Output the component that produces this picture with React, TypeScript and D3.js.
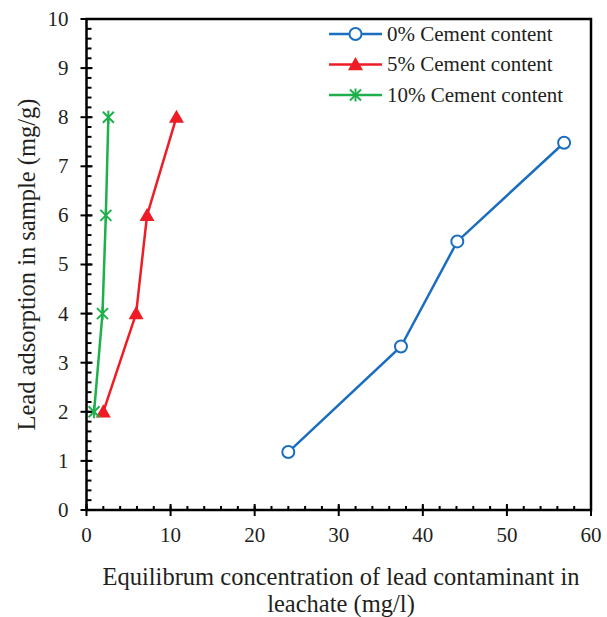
import React from "react";
import * as d3 from "d3";

const cement0X = [24.0, 37.4, 44.1, 56.8];
const cement0Y = [1.18, 3.33, 5.47, 7.48];
const cement5X = [2.0, 5.9, 7.2, 10.7];
const cement5Y = [2, 4, 6, 8];
const cement10X = [0.9, 1.9, 2.3, 2.6];
const cement10Y = [2, 4, 6, 8];

const seriesNames = ["0% Cement content", "5% Cement content", "10% Cement content"];
const seriesColors = ["#1b6ebf", "#ee1c25", "#1db04b"];
const xTicks = [0, 10, 20, 30, 40, 50, 60];
const yTicks = [0, 1, 2, 3, 4, 5, 6, 7, 8, 9, 10];

const W = 607;
const H = 617;
const font = "'Liberation Serif', 'DejaVu Serif', serif";
const ink = "#231f20";

const x = d3.scaleLinear().domain([0, 60]).range([86.5, 591]);
const y = d3.scaleLinear().domain([0, 10]).range([510, 19]);

type Pt = [number, number];

const Marker: React.FC<{ kind: number; cx: number; cy: number; color: string }> = ({ kind, cx, cy, color }) => {
  if (kind === 0) {
    return <circle cx={cx} cy={cy} r={6} fill="white" stroke={color} strokeWidth={2} />;
  }
  if (kind === 1) {
    const s = 7.5;
    return (
      <path
        d={`M${cx},${cy - s} L${cx + s},${cy + s * 0.75} L${cx - s},${cy + s * 0.75} Z`}
        fill={color}
      />
    );
  }
  const s = 5.5;
  return (
    <g stroke={color} strokeWidth={2}>
      <line x1={cx - s} y1={cy - s} x2={cx + s} y2={cy + s} />
      <line x1={cx - s} y1={cy + s} x2={cx + s} y2={cy - s} />
      <line x1={cx} y1={cy - s - 1} x2={cx} y2={cy + s + 1} />
    </g>
  );
};

export default function App() {
  const series: Pt[][] = [
    cement0X.map((v, i) => [v, cement0Y[i]] as Pt),
    cement5X.map((v, i) => [v, cement5Y[i]] as Pt),
    cement10X.map((v, i) => [v, cement10Y[i]] as Pt),
  ];
  const line = d3
    .line<Pt>()
    .x((d) => x(d[0]))
    .y((d) => y(d[1]));

  const yMinor = d3.range(0, 10.001, 0.2);
  const xMinor = d3.range(0, 60.001, 2);

  return (
    <svg
      width={W}
      height={H}
      style={{ position: "absolute", left: 0, top: 0, background: "white" }}
      fontFamily={font}
    >
      {/* minor ticks */}
      {yMinor.map((t, i) => (
        <line key={"ym" + i} x1={x(0)} x2={x(0) + 5} y1={y(t)} y2={y(t)} stroke="black" strokeWidth={2} />
      ))}
      {xMinor.map((t, i) => (
        <line key={"xm" + i} x1={x(t)} x2={x(t)} y1={y(0)} y2={y(0) - 4} stroke="black" strokeWidth={2} />
      ))}
      {/* major ticks */}
      {yTicks.map((t) => (
        <line key={"yt" + t} x1={x(0) - 6} x2={x(0) + 6} y1={y(t)} y2={y(t)} stroke="black" strokeWidth={2} />
      ))}
      {xTicks.map((t) => (
        <line key={"xt" + t} x1={x(t)} x2={x(t)} y1={y(0) - 6} y2={y(0) + 6} stroke="black" strokeWidth={2} />
      ))}
      {/* frame */}
      <rect
        x={x(0)}
        y={y(10)}
        width={x(60) - x(0)}
        height={y(0) - y(10)}
        fill="none"
        stroke="black"
        strokeWidth={2.5}
      />
      {/* tick labels */}
      {yTicks.map((t) => (
        <text key={"yl" + t} x={x(0) - 18} y={y(t)} dy="0.33em" textAnchor="end" fontSize={21} fill={ink}>
          {t}
        </text>
      ))}
      {xTicks.map((t) => (
        <text key={"xl" + t} x={x(t)} y={y(0) + 25} dy="0.33em" textAnchor="middle" fontSize={21} fill={ink}>
          {t}
        </text>
      ))}
      {/* series */}
      {series.map((pts, si) => (
        <g key={"s" + si}>
          <path d={line(pts) || ""} fill="none" stroke={seriesColors[si]} strokeWidth={2.5} />
          {pts.map((p, j) => (
            <Marker key={j} kind={si} cx={x(p[0])} cy={y(p[1])} color={seriesColors[si]} />
          ))}
        </g>
      ))}
      {/* legend */}
      {seriesNames.map((name, i) => {
        const ly = 34 + i * 30.5;
        return (
          <g key={"lg" + i}>
            <line x1={329} x2={382} y1={ly} y2={ly} stroke={seriesColors[i]} strokeWidth={2.5} />
            <Marker kind={i} cx={355.5} cy={ly} color={seriesColors[i]} />
            <text x={387} y={ly} dy="0.33em" fontSize={21} fill={ink}>
              {name}
            </text>
          </g>
        );
      })}
      {/* axis titles */}
      <text
        transform={`translate(27, ${(y(0) + y(10)) / 2}) rotate(-90)`}
        textAnchor="middle"
        dy="0.33em"
        fontSize={24.5}
        fill={ink}
      >
        Lead adsorption in sample (mg/g)
      </text>
      <text x={341} y={577} textAnchor="middle" dy="0.33em" fontSize={24.5} fill={ink}>
        Equilibrum concentration of lead contaminant in
      </text>
      <text x={341} y={604} textAnchor="middle" dy="0.33em" fontSize={24.5} fill={ink}>
        leachate (mg/l)
      </text>
    </svg>
  );
}
